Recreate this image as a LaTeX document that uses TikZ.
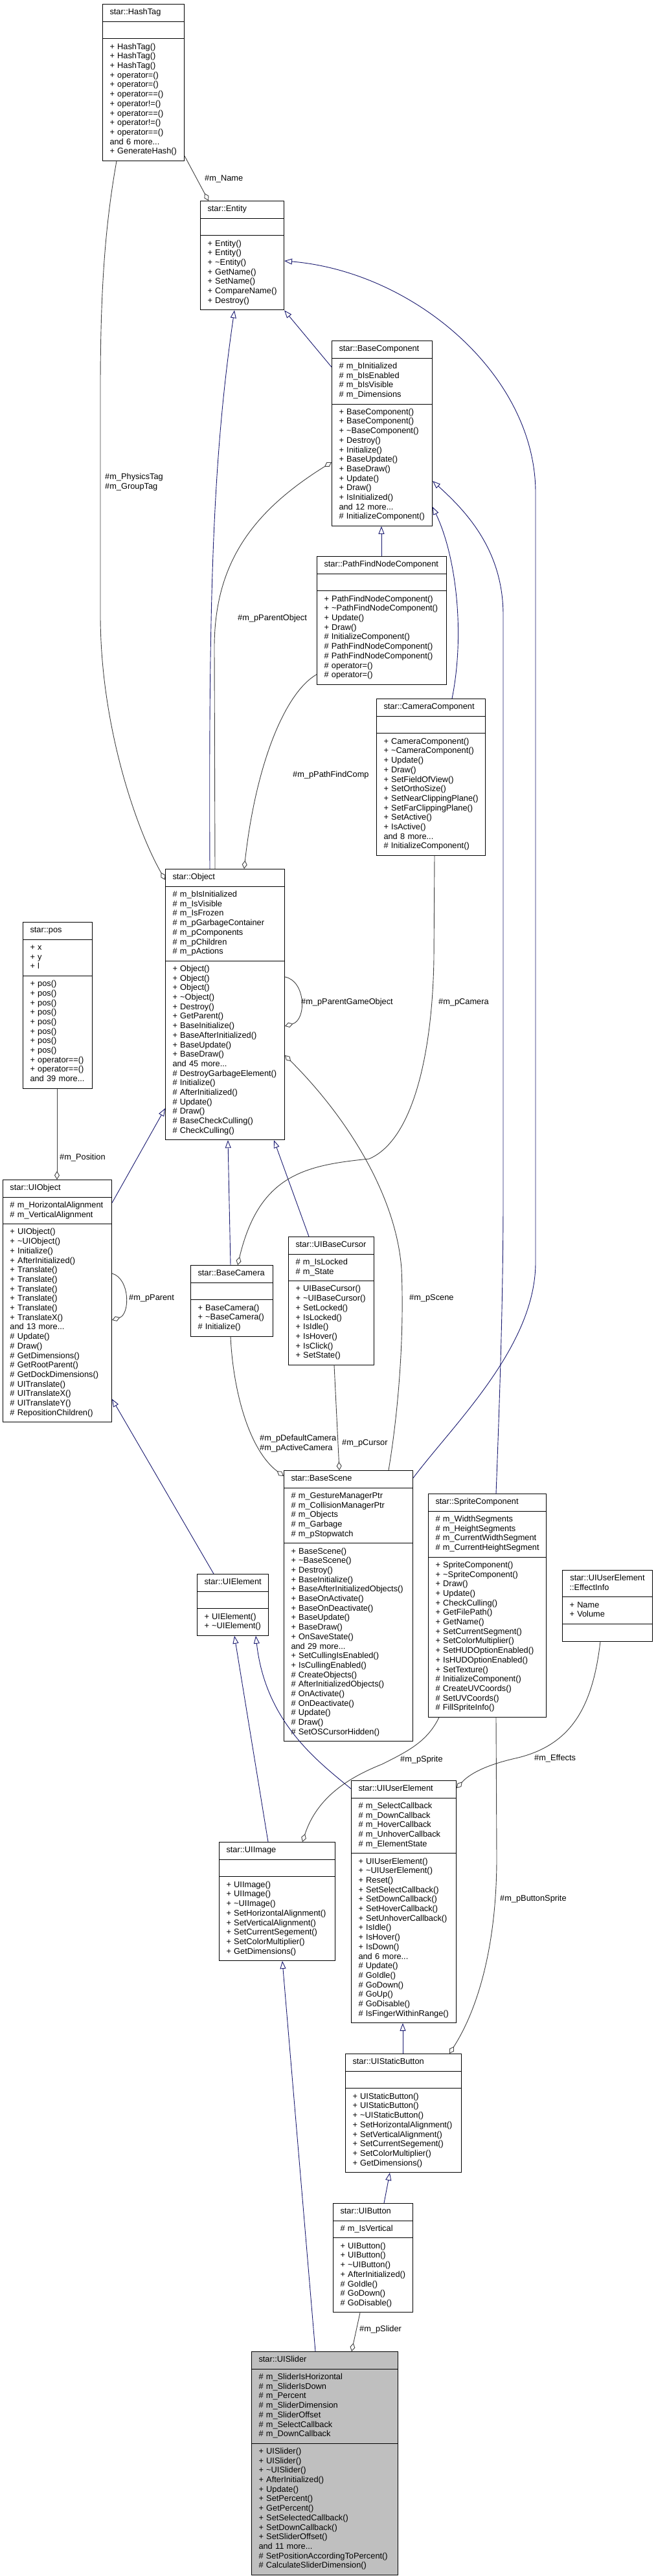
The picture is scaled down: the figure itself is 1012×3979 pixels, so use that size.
\documentclass[tikz,border=0pt]{standalone}
\usepackage{fontspec}
\setmainfont{Liberation Sans}
\usetikzlibrary{shapes.multipart, arrows.meta, calc}
\definecolor{edgeblue}{HTML}{191970}
\definecolor{edgegray}{HTML}{404040}
\definecolor{focusfill}{HTML}{BFBFBF}
\hyphenpenalty=10000
\exhyphenpenalty=10000

\begin{document}
\begin{tikzpicture}[x=1pt, y=-1pt,
  cls/.style={rectangle split, rectangle split parts=3, draw=black, line width=1pt, fill=white, anchor=north west,
              inner xsep=11pt, inner ysep=5.5pt, align=left, font=\fontsize{12.8}{14.7}\selectfont},
  inh/.style={draw=edgeblue, line width=0.9pt, -{Triangle[open, length=12pt, width=9pt]}},
  uses/.style={draw=edgegray, line width=0.9pt, -{Diamond[open, length=13pt, width=8pt]}},
  lbl/.style={anchor=west, inner sep=0pt, align=left, font=\fontsize{12.8}{14.7}\selectfont}]
  \fill[white] (0,0) rectangle (1012,3979);
  \useasboundingbox (0,0) rectangle (1012,3979);

  % classes
  \node[cls, text width=104pt] (hashtag) at (158,6) {\centering\strut star::HashTag\strut
    \nodepart{two}\strut
    \nodepart{three}\strut +~HashTag()\\ +~HashTag()\\ +~HashTag()\\ +~operator=()\\ +~operator=()\\
    +~operator==()\\ +~operator!=()\\ +~operator==()\\ +~operator!=()\\ +~operator==()\\
    and 6 more...\\ +~GenerateHash()\strut};
  \node[cls, text width=107pt] (entity) at (309,310) {\centering\strut star::Entity\strut
    \nodepart{two}\strut
    \nodepart{three}\strut +~Entity()\\ +~Entity()\\ +~\textasciitilde Entity()\\ +~GetName()\\
    +~SetName()\\ +~CompareName()\\ +~Destroy()\strut};
  \node[cls, text width=133pt] (basecomp) at (512,526) {\centering\strut star::BaseComponent\strut
    \nodepart{two}\strut \#~m\_bInitialized\\ \#~m\_bIsEnabled\\ \#~m\_bIsVisible\\ \#~m\_Dimensions\strut
    \nodepart{three}\strut +~BaseComponent()\\ +~BaseComponent()\\ +~\textasciitilde BaseComponent()\\
    +~Destroy()\\ +~Initialize()\\ +~BaseUpdate()\\ +~BaseDraw()\\ +~Update()\\ +~Draw()\\
    +~IsInitialized()\\ and 12 more...\\ \#~InitializeComponent()\strut};
  \node[cls, text width=178pt] (pathfind) at (489,859) {\centering\strut star::PathFindNodeComponent\strut
    \nodepart{two}\strut
    \nodepart{three}\strut +~PathFindNodeComponent()\\ +~\textasciitilde PathFindNodeComponent()\\
    +~Update()\\ +~Draw()\\ \#~InitializeComponent()\\ \#~PathFindNodeComponent()\\
    \#~PathFindNodeComponent()\\ \#~operator=()\\ \#~operator=()\strut};
  \node[cls, text width=146pt] (camcomp) at (581,1079) {\centering\strut star::CameraComponent\strut
    \nodepart{two}\strut
    \nodepart{three}\strut +~CameraComponent()\\ +~\textasciitilde CameraComponent()\\ +~Update()\\
    +~Draw()\\ +~SetFieldOfView()\\ +~SetOrthoSize()\\ +~SetNearClippingPlane()\\
    +~SetFarClippingPlane()\\ +~SetActive()\\ +~IsActive()\\ and 8 more...\\
    \#~InitializeComponent()\strut};
  \node[cls, text width=162pt] (object) at (255,1342) {\centering\strut star::Object\strut
    \nodepart{two}\strut \#~m\_bIsInitialized\\ \#~m\_IsVisible\\ \#~m\_IsFrozen\\
    \#~m\_pGarbageContainer\\ \#~m\_pComponents\\ \#~m\_pChildren\\ \#~m\_pActions\strut
    \nodepart{three}\strut +~Object()\\ +~Object()\\ +~Object()\\ +~\textasciitilde Object()\\
    +~Destroy()\\ +~GetParent()\\ +~BaseInitialize()\\ +~BaseAfterInitialized()\\ +~BaseUpdate()\\
    +~BaseDraw()\\ and 45 more...\\ \#~DestroyGarbageElement()\\ \#~Initialize()\\
    \#~AfterInitialized()\\ \#~Update()\\ \#~Draw()\\ \#~BaseCheckCulling()\\ \#~CheckCulling()\strut};
  \node[cls, text width=85pt] (pos) at (35,1424) {\centering\strut star::pos\strut
    \nodepart{two}\strut +~x\\ +~y\\ +~l\strut
    \nodepart{three}\strut +~pos()\\ +~pos()\\ +~pos()\\ +~pos()\\ +~pos()\\ +~pos()\\ +~pos()\\
    +~pos()\\ +~operator==()\\ +~operator==()\\ and 39 more...\strut};
  \node[cls, text width=146pt] (uiobject) at (4,1822) {\centering\strut star::UIObject\strut
    \nodepart{two}\strut \#~m\_HorizontalAlignment\\ \#~m\_VerticalAlignment\strut
    \nodepart{three}\strut +~UIObject()\\ +~\textasciitilde UIObject()\\ +~Initialize()\\
    +~AfterInitialized()\\ +~Translate()\\ +~Translate()\\ +~Translate()\\ +~Translate()\\
    +~Translate()\\ +~TranslateX()\\ and 13 more...\\ \#~Update()\\ \#~Draw()\\
    \#~GetDimensions()\\ \#~GetRootParent()\\ \#~GetDockDimensions()\\ \#~UITranslate()\\
    \#~UITranslateX()\\ \#~UITranslateY()\\ \#~RepositionChildren()\strut};
  \node[cls, text width=105pt] (basecamera) at (294,1954) {\centering\strut star::BaseCamera\strut
    \nodepart{two}\strut
    \nodepart{three}\strut +~BaseCamera()\\ +~\textasciitilde BaseCamera()\\ \#~Initialize()\strut};
  \node[cls, text width=110pt] (uibasecursor) at (445,1910) {\centering\strut star::UIBaseCursor\strut
    \nodepart{two}\strut \#~m\_IsLocked\\ \#~m\_State\strut
    \nodepart{three}\strut +~UIBaseCursor()\\ +~\textasciitilde UIBaseCursor()\\ +~SetLocked()\\
    +~IsLocked()\\ +~IsIdle()\\ +~IsHover()\\ +~IsClick()\\ +~SetState()\strut};
  \node[cls, text width=177pt] (basescene) at (438,2271) {\centering\strut star::BaseScene\strut
    \nodepart{two}\strut \#~m\_GestureManagerPtr\\ \#~m\_CollisionManagerPtr\\ \#~m\_Objects\\
    \#~m\_Garbage\\ \#~m\_pStopwatch\strut
    \nodepart{three}\strut +~BaseScene()\\ +~\textasciitilde BaseScene()\\ +~Destroy()\\
    +~BaseInitialize()\\ +~BaseAfterInitializedObjects()\\ +~BaseOnActivate()\\
    +~BaseOnDeactivate()\\ +~BaseUpdate()\\ +~BaseDraw()\\ +~OnSaveState()\\ and 29 more...\\
    +~SetCullingIsEnabled()\\ +~IsCullingEnabled()\\ \#~CreateObjects()\\
    \#~AfterInitializedObjects()\\ \#~OnActivate()\\ \#~OnDeactivate()\\ \#~Update()\\
    \#~Draw()\\ \#~SetOSCursorHidden()\strut};
  \node[cls, text width=160pt] (spritecomp) at (661,2307) {\centering\strut star::SpriteComponent\strut
    \nodepart{two}\strut \#~m\_WidthSegments\\ \#~m\_HeightSegments\\ \#~m\_CurrentWidthSegment\\
    \#~m\_CurrentHeightSegment\strut
    \nodepart{three}\strut +~SpriteComponent()\\ +~\textasciitilde SpriteComponent()\\ +~Draw()\\
    +~Update()\\ +~CheckCulling()\\ +~GetFilePath()\\ +~GetName()\\ +~SetCurrentSegment()\\
    +~SetColorMultiplier()\\ +~SetHUDOptionEnabled()\\ +~IsHUDOptionEnabled()\\ +~SetTexture()\\
    \#~InitializeComponent()\\ \#~CreateUVCoords()\\ \#~SetUVCoords()\\ \#~FillSpriteInfo()\strut};
  \node[cls, text width=117pt] (effectinfo) at (868,2425) {\centering\strut star::UIUserElement\\::EffectInfo\strut
    \nodepart{two}\strut +~Name\\ +~Volume\strut
    \nodepart{three}\strut};
  \node[cls, text width=88pt] (uielement) at (304,2431) {\centering\strut star::UIElement\strut
    \nodepart{two}\strut
    \nodepart{three}\strut +~UIElement()\\ +~\textasciitilde UIElement()\strut};
  \node[cls, text width=157pt] (uiimage) at (338,2845) {\centering\strut star::UIImage\strut
    \nodepart{two}\strut
    \nodepart{three}\strut +~UIImage()\\ +~UIImage()\\ +~\textasciitilde UIImage()\\
    +~SetHorizontalAlignment()\\ +~SetVerticalAlignment()\\ +~SetCurrentSegement()\\
    +~SetColorMultiplier()\\ +~GetDimensions()\strut};
  \node[cls, text width=140pt] (uiuserelement) at (542,2750) {\centering\strut star::UIUserElement\strut
    \nodepart{two}\strut \#~m\_SelectCallback\\ \#~m\_DownCallback\\ \#~m\_HoverCallback\\
    \#~m\_UnhoverCallback\\ \#~m\_ElementState\strut
    \nodepart{three}\strut +~UIUserElement()\\ +~\textasciitilde UIUserElement()\\ +~Reset()\\
    +~SetSelectCallback()\\ +~SetDownCallback()\\ +~SetHoverCallback()\\ +~SetUnhoverCallback()\\
    +~IsIdle()\\ +~IsHover()\\ +~IsDown()\\ and 6 more...\\ \#~Update()\\ \#~GoIdle()\\
    \#~GoDown()\\ \#~GoUp()\\ \#~GoDisable()\\ \#~IsFingerWithinRange()\strut};
  \node[cls, text width=157pt] (uistaticbutton) at (533,3172) {\centering\strut star::UIStaticButton\strut
    \nodepart{two}\strut
    \nodepart{three}\strut +~UIStaticButton()\\ +~UIStaticButton()\\ +~\textasciitilde UIStaticButton()\\
    +~SetHorizontalAlignment()\\ +~SetVerticalAlignment()\\ +~SetCurrentSegement()\\
    +~SetColorMultiplier()\\ +~GetDimensions()\strut};
  \node[cls, text width=101pt] (uibutton) at (514,3403) {\centering\strut star::UIButton\strut
    \nodepart{two}\strut \#~m\_IsVertical\strut
    \nodepart{three}\strut +~UIButton()\\ +~UIButton()\\ +~\textasciitilde UIButton()\\
    +~AfterInitialized()\\ \#~GoIdle()\\ \#~GoDown()\\ \#~GoDisable()\strut};
  \node[cls, text width=204pt, fill=focusfill] (uislider) at (388,3632) {\centering\strut star::UISlider\strut
    \nodepart{two}\strut \#~m\_SliderIsHorizontal\\ \#~m\_SliderIsDown\\ \#~m\_Percent\\
    \#~m\_SliderDimension\\ \#~m\_SliderOffset\\ \#~m\_SelectCallback\\ \#~m\_DownCallback\strut
    \nodepart{three}\strut +~UISlider()\\ +~UISlider()\\ +~\textasciitilde UISlider()\\
    +~AfterInitialized()\\ +~Update()\\ +~SetPercent()\\ +~GetPercent()\\ +~SetSelectedCallback()\\
    +~SetDownCallback()\\ +~SetSliderOffset()\\ and 11 more...\\
    \#~SetPositionAccordingToPercent()\\ \#~CalculateSliderDimension()\strut};

  % inheritance
  \draw[inh] ($(basecomp.north west)+(0,41)$) -- (entity.south east);
  \draw[inh] ($(object.north west)+(69,0)$) .. controls (322,900) and (330,700) .. ($(entity.south west)+(53,0)$);
  \draw[inh] ($(basescene.north east)+(0,12)$) .. controls (700,2200) and (827,2080) .. (827,1950)
    -- (827,761) .. controls (827,580) and (640,420) .. ($(entity.north east)+(0,93)$);
  \draw[inh] ($(pathfind.north west)+(100,0)$) -- ($(basecomp.south west)+(77,0)$);
  \draw[inh] ($(camcomp.north west)+(117,0)$) .. controls (718,980) and (705,860) .. ($(basecomp.north east)+(0,257)$);
  \draw[inh] ($(spritecomp.north west)+(105,0)$) .. controls (772,2150) and (777,2000) .. (777,1850)
    -- (777,950) .. controls (777,850) and (720,790) .. ($(basecomp.north east)+(0,217)$);
  \draw[inh] ($(uiobject.north east)+(0,36)$) -- ($(object.north west)+(0,370)$);
  \draw[inh] ($(basecamera.north west)+(62,0)$) -- ($(object.south west)+(97,0)$);
  \draw[inh] ($(uibasecursor.north west)+(32,0)$) -- ($(object.south west)+(168,0)$);
  \draw[inh] ($(uielement.north west)+(26,0)$) -- ($(uiobject.north east)+(0,339)$);
  \draw[inh] ($(uiimage.north west)+(76,0)$) -- ($(uielement.south west)+(58,0)$);
  \draw[inh] ($(uiuserelement.north west)+(0,13)$) .. controls (490,2720) and (410,2660) .. ($(uielement.south west)+(91,0)$);
  \draw[inh] ($(uistaticbutton.north west)+(89,0)$) -- ($(uiuserelement.south west)+(80,0)$);
  \draw[inh] ($(uibutton.north west)+(79,0)$) -- ($(uistaticbutton.south west)+(69,0)$);
  \draw[inh] ($(uislider.north west)+(99,0)$) -- ($(uiimage.south west)+(98,0)$);

  % members
  \draw[uses] ($(hashtag.south east)+(0,-8)$) -- ($(entity.north west)+(13,0)$);
  \draw[uses] ($(hashtag.south west)+(22,0)$) .. controls (162,350) and (155,450) .. (155,600)
    -- (155,950) .. controls (155,1120) and (210,1280) .. ($(object.north west)+(0,17)$);
  \draw[uses] ($(object.north east)+(0,167)$) .. controls (472,1515) and (474,1575) .. ($(object.north east)+(0,243)$);
  \draw[uses] ($(object.north west)+(77,0)$) -- (331,1000) .. controls (331,870) and (390,790) .. ($(basecomp.north west)+(0,188)$);
  \draw[uses] ($(pathfind.south west)+(0,-16)$) .. controls (440,1070) and (395,1180) .. ($(object.north west)+(122,0)$);
  \draw[uses] ($(camcomp.south west)+(90,0)$) -- (670,1480) .. controls (668,1620) and (640,1760) .. (570,1790)
    .. controls (470,1800) and (400,1815) .. ($(basecamera.north west)+(73,0)$);
  \draw[uses] ($(basescene.north west)+(162,0)$) .. controls (612,2200) and (625,2080) .. (620,1960)
    .. controls (612,1850) and (540,1730) .. ($(object.north east)+(0,288)$);
  \draw[uses] ($(basecamera.south west)+(62,0)$) .. controls (360,2150) and (385,2240) .. ($(basescene.north west)+(0,9)$);
  \draw[uses] ($(uibasecursor.south west)+(71,0)$) -- ($(basescene.north west)+(86,0)$);
  \draw[uses] ($(spritecomp.south west)+(17,0)$) .. controls (660,2690) and (630,2705) .. (590,2725)
    .. controls (540,2745) and (490,2775) .. ($(uiimage.north west)+(129,0)$);
  \draw[uses] ($(spritecomp.south west)+(105,0)$) -- (767,2870) .. controls (767,3000) and (740,3100) .. ($(uistaticbutton.north west)+(161,0)$);
  \draw[uses] ($(effectinfo.south west)+(59,0)$) .. controls (915,2640) and (880,2695) .. (800,2715)
    .. controls (750,2726) and (725,2740) .. ($(uiuserelement.north east)+(0,12)$);
  \draw[uses] ($(uibutton.south west)+(42,0)$) -- ($(uislider.north west)+(155,0)$);
  \draw[uses] ($(pos.south west)+(53,0)$) -- ($(uiobject.north west)+(84,0)$);
  \draw[uses] ($(uiobject.north east)+(0,145)$) .. controls (201,1975) and (201,2030) .. ($(uiobject.north east)+(0,217)$);

  % member labels
  \node[lbl] (lname) at (316,276) {\#m\_Name};
  \node[lbl, anchor=north west] (ltags) at (162,731) {\#m\_PhysicsTag\\\#m\_GroupTag};
  \node[lbl] (lparentgo) at (465,1548) {\#m\_pParentGameObject};
  \node[lbl] (lparentobj) at (367,955) {\#m\_pParentObject};
  \node[lbl] (lpathfind) at (452,1197) {\#m\_pPathFindComp};
  \node[lbl] (lcamera) at (677,1548) {\#m\_pCamera};
  \node[lbl] (lscene) at (632,2005) {\#m\_pScene};
  \node[lbl, anchor=north west] (lcams) at (401,2216) {\#m\_pDefaultCamera\\\#m\_pActiveCamera};
  \node[lbl] (lcursor) at (528,2229) {\#m\_pCursor};
  \node[lbl] (lsprite) at (618,2718) {\#m\_pSprite};
  \node[lbl] (lbtnsprite) at (772,2933) {\#m\_pButtonSprite};
  \node[lbl] (leffects) at (825,2716) {\#m\_Effects};
  \node[lbl] (lslider) at (555,3598) {\#m\_pSlider};
  \node[lbl] (lposition) at (92,1788) {\#m\_Position};
  \node[lbl] (lparent) at (199,2005) {\#m\_pParent};
\end{tikzpicture}
\end{document}
